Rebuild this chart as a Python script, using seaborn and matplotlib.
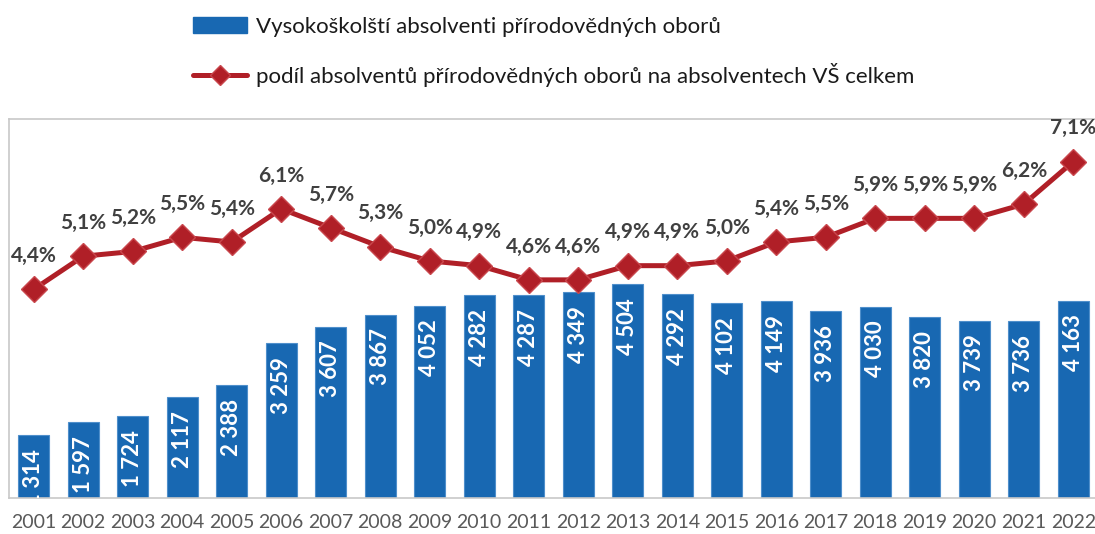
import numpy as np
import pandas as pd
import matplotlib
matplotlib.use("Agg")
import matplotlib.pyplot as plt
import matplotlib.patches as mpatches
import matplotlib.lines as mlines
import seaborn as sns

# --- data ---
years = [str(y) for y in range(2001, 2023)]
graduates = [1314, 1597, 1724, 2117, 2388, 3259, 3607, 3867, 4052, 4282, 4287,
             4349, 4504, 4292, 4102, 4149, 3936, 4030, 3820, 3739, 3736, 4163]
share_pct = [4.4, 5.1, 5.2, 5.5, 5.4, 6.1, 5.7, 5.3, 5.0, 4.9, 4.6,
             4.6, 4.9, 4.9, 5.0, 5.4, 5.5, 5.9, 5.9, 5.9, 6.2, 7.1]

bar_label = "Vysokoškolští absolventi přírodovědných oborů"
line_label = "podíl absolventů přírodovědných oborů na absolventech VŠ celkem"

BLUE = "#1868B2"
RED = "#B01F27"
GRID_GRAY = "#C8C8C8"

sns.set_style("white")
plt.rcParams["font.family"] = ["Lato", "DejaVu Sans"]

df = pd.DataFrame({"year": years, "graduates": graduates, "share": share_pct})
df["pos"] = np.arange(len(df))

fig = plt.figure(figsize=(10.95, 5.34), dpi=100)
ax = fig.add_axes([9 / 1095, 36.5 / 534, 1089 / 1095, 378.5 / 534])

sns.barplot(data=df, x="year", y="graduates", color=BLUE, width=0.63,
            edgecolor="#4F8FCB", linewidth=0.8, saturation=1, ax=ax)

# value labels inside the bars, rotated, anchored near the bar top
for i, v in enumerate(graduates):
    ax.annotate(f"{v:,}".replace(",", " "), xy=(i, v), xytext=(0, -10),
                textcoords="offset points", rotation=90, rotation_mode="anchor",
                ha="right", va="center", color="white", fontsize=16,
                fontweight="bold", clip_on=True, annotation_clip=True)

ax.set_ylim(0, 8000)
ax.set_xlim(-0.5, len(years) - 0.5)
ax.set_xlabel("")
ax.set_ylabel("")
ax.set_yticks([])

# ticks between categories, labels centered under bars
ax.set_xticks(np.arange(len(years) + 1) - 0.5, minor=True)
ax.tick_params(axis="x", which="minor", length=6, color=GRID_GRAY, width=1)
ax.tick_params(axis="x", which="major", length=0, pad=12, labelsize=14,
               labelcolor="#595959")

for side in ["left", "top", "bottom"]:
    ax.spines[side].set_visible(True)
    ax.spines[side].set_color(GRID_GRAY)
    ax.spines[side].set_linewidth(1.2)
ax.spines["right"].set_visible(False)

ax2 = ax.twinx()
sns.lineplot(data=df, x="pos", y="share", color=RED, linewidth=3.6,
             marker="D", markersize=13, markerfacecolor=RED,
             markeredgecolor="#C9474D", markeredgewidth=1, ax=ax2)
ax2.set_ylim(0, 8)
ax2.set_yticks([])
ax2.set_xlabel("")
ax2.set_ylabel("")
for side in ax2.spines:
    ax2.spines[side].set_visible(False)

for i, v in enumerate(share_pct):
    ax2.annotate(f"{v:.1f}%".replace(".", ","), xy=(i, v), xytext=(0, 24),
                 textcoords="offset points", ha="center", va="center",
                 color="#404040", fontsize=15, fontweight="bold")

handles = [
    mpatches.Patch(facecolor=BLUE, edgecolor=BLUE),
    mlines.Line2D([], [], color=RED, linewidth=3.6, marker="D", markersize=10,
                  markerfacecolor=RED, markeredgecolor="#C9474D"),
]
fig.legend(handles, [bar_label, line_label], loc="upper left",
           bbox_to_anchor=(193 / 1095, 1 - 17 / 534), frameon=False,
           fontsize=16, handlelength=2.45, handletextpad=0.4,
           labelspacing=1.15, borderpad=0, borderaxespad=0, labelcolor="#1A1A1A")

fig.savefig("out.png", dpi=100)
